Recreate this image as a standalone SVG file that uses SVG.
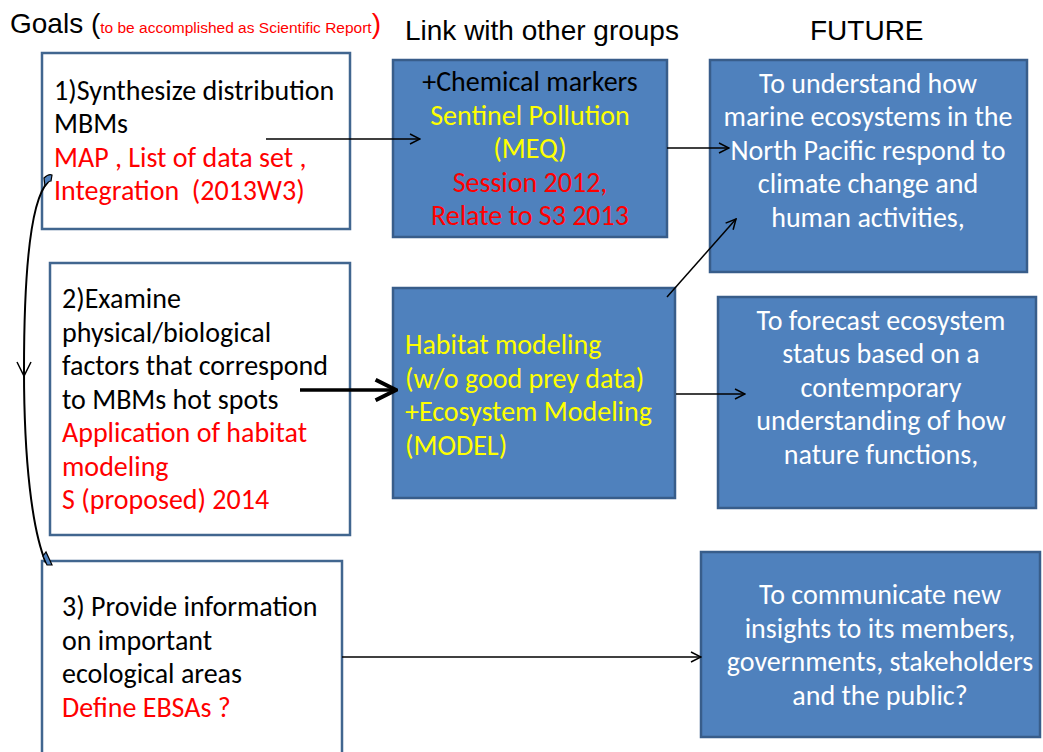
<svg xmlns="http://www.w3.org/2000/svg" width="1043" height="752" viewBox="0 0 1043 752">
  <defs>
    <style>
      text { font-family: Carlito, Lato, "Open Sans", sans-serif; font-size: 28px; }
      .goal { fill: #ffffff; stroke: #41668f; stroke-width: 2.5; }
      .blue { fill: #4f81bd; stroke: #385d8a; stroke-width: 2.5; }
      .k { fill: #000000; }
      .r { fill: #ff0000; }
      .y { fill: #ffff00; }
      .w { fill: #ffffff; }
      .mid { text-anchor: middle; }
      .head { font-family: "Liberation Sans", Arial, sans-serif; font-size: 28px; fill: #000000; }
      .conn { stroke: #000000; stroke-width: 1.5; fill: none; }
    </style>
    <marker id="open" viewBox="0 0 12 12" refX="11" refY="6" markerWidth="12" markerHeight="12" markerUnits="userSpaceOnUse" orient="auto">
      <path d="M1,1 L11,6 L1,11" fill="none" stroke="#000000" stroke-width="1.5"/>
    </marker>
    <marker id="openBig" viewBox="0 0 12 12" refX="11" refY="6" markerWidth="7" markerHeight="7" orient="auto">
      <path d="M1,1 L11,6 L1,11" fill="none" stroke="#000000" stroke-width="2"/>
    </marker>
  </defs>

  <rect width="1043" height="752" fill="#ffffff"/>

  <!-- column headings -->
  <g id="headings">
    <text class="head" x="10" y="33">Goals <tspan>(</tspan><tspan fill="#ff0000" font-size="15.5">to be accomplished as Scientific Report</tspan><tspan fill="#ff0000">)</tspan></text>
    <text class="head" x="405" y="40">Link with other groups</text>
    <text class="head" x="810" y="40">FUTURE</text>
  </g>

  <!-- goals column -->
  <g id="goal1">
    <rect class="goal" x="42" y="53" width="308" height="176"/>
    <text x="54" y="100" class="k">1)Synthesize distribution</text>
    <text x="54" y="133" class="k">MBMs</text>
    <text x="54" y="167" class="r">MAP , List of data set ,</text>
    <text x="54" y="200" class="r">Integration &#160;(2013W3)</text>
  </g>
  <g id="goal2">
    <rect class="goal" x="50" y="263" width="300" height="272"/>
    <text x="62" y="308" class="k">2)Examine</text>
    <text x="62" y="342" class="k">physical/biological</text>
    <text x="62" y="375" class="k">factors that correspond</text>
    <text x="62" y="409" class="k">to MBMs hot spots</text>
    <text x="62" y="442" class="r">Application of habitat</text>
    <text x="62" y="476" class="r">modeling</text>
    <text x="62" y="509" class="r">S (proposed) 2014</text>
  </g>
  <g id="goal3">
    <rect class="goal" x="42" y="561" width="300" height="200"/>
    <text x="62" y="616" class="k">3) Provide information</text>
    <text x="62" y="650" class="k">on important</text>
    <text x="62" y="683" class="k">ecological areas</text>
    <text x="62" y="717" class="r">Define EBSAs ?</text>
  </g>

  <!-- link column -->
  <g id="link1">
    <rect class="blue" x="393" y="60" width="274" height="177"/>
    <text x="530" y="91" class="k mid">+Chemical markers</text>
    <text x="530" y="125" class="y mid">Sentinel Pollution</text>
    <text x="530" y="158" class="y mid">(MEQ)</text>
    <text x="530" y="192" class="r mid">Session 2012,</text>
    <text x="530" y="225" class="r mid">Relate to S3 2013</text>
  </g>
  <g id="link2">
    <rect class="blue" x="393" y="288" width="282" height="210"/>
    <text x="405" y="354" class="y">Habitat modeling</text>
    <text x="405" y="388" class="y">(w/o good prey data)</text>
    <text x="405" y="421" class="y">+Ecosystem Modeling</text>
    <text x="405" y="455" class="y">(MODEL)</text>
  </g>

  <!-- future column -->
  <g id="future1">
    <rect class="blue" x="710" y="60" width="317" height="212"/>
    <text x="868" y="93" class="w mid">To understand how</text>
    <text x="868" y="126" class="w mid">marine ecosystems in the</text>
    <text x="868" y="160" class="w mid">North Pacific respond to</text>
    <text x="868" y="193" class="w mid">climate change and</text>
    <text x="868" y="227" class="w mid">human activities,</text>
  </g>
  <g id="future2">
    <rect class="blue" x="718" y="297" width="318" height="211"/>
    <text x="881" y="330" class="w mid">To forecast ecosystem</text>
    <text x="881" y="363" class="w mid">status based on a</text>
    <text x="881" y="397" class="w mid">contemporary</text>
    <text x="881" y="430" class="w mid">understanding of how</text>
    <text x="881" y="464" class="w mid">nature functions,</text>
  </g>
  <g id="future3">
    <rect class="blue" x="701" y="552" width="339" height="185"/>
    <text x="880" y="604" class="w mid">To communicate new</text>
    <text x="880" y="638" class="w mid">insights to its members,</text>
    <text x="880" y="671" class="w mid">governments, stakeholders</text>
    <text x="880" y="705" class="w mid">and the public?</text>
  </g>

  <!-- connectors -->
  <g id="connectors">
    <line class="conn" x1="266" y1="139" x2="420" y2="139" marker-end="url(#open)"/>
    <line class="conn" x1="667" y1="148" x2="729" y2="148" marker-end="url(#open)"/>
    <line class="conn" x1="667" y1="297" x2="736" y2="219" marker-end="url(#open)"/>
    <line class="conn" x1="676" y1="394" x2="745" y2="394" marker-end="url(#open)"/>
    <line class="conn" x1="342" y1="657" x2="701" y2="657" marker-end="url(#open)"/>
    <line x1="300" y1="390" x2="396" y2="390" stroke="#000000" stroke-width="3.5" marker-end="url(#openBig)"/>
    <!-- bracket curve linking goal 1 down to goal 3 -->
    <path d="M48,182 C30,200 24,280 24,370 C24,460 32,530 46,563" fill="none" stroke="#000000" stroke-width="2"/>
    <path d="M17,362 L24,376 L31,362" fill="none" stroke="#000000" stroke-width="1.5"/>
    <path d="M44,178 C47,175 50,174 52,175 L51,181 C49,181 47,183 45,186 Z" fill="#4f81bd" stroke="#000000" stroke-width="1.2"/>
    <path d="M43,556 L47,565 L52,565 L46,552 Z" fill="#4f81bd" stroke="#000000" stroke-width="1.2"/>
  </g>
</svg>
